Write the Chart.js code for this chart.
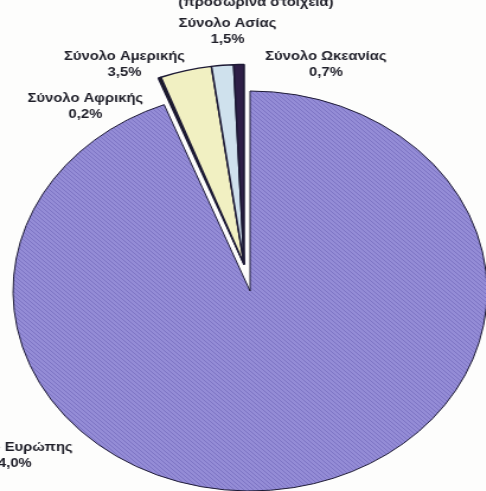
<!DOCTYPE html>
<html>
<head>
<meta charset="utf-8">
<script src="https://cdn.jsdelivr.net/npm/chart.js@4"></script>
<style>
  html, body { margin: 0; padding: 0; background: #fdfdfc; overflow: hidden; }
  /* the scanned original is stretched sideways, so the whole canvas is too */
  #wrap { width: 410px; height: 491px; transform: scaleX(1.185); transform-origin: 0 0; }
</style>
</head>
<body>
<div id="wrap"><canvas id="pie" width="410" height="491"></canvas></div>
<script>
const regions = ['Σύνολο Ευρώπης', 'Σύνολο Αφρικής', 'Σύνολο Αμερικής', 'Σύνολο Ασίας', 'Σύνολο Ωκεανίας'];
const shares = [94.0, 0.2, 3.5, 1.5, 0.7];
const subtitle = '(προσωρινά στοιχεία)';

document.addEventListener('DOMContentLoaded', function() {
  const canvas = document.getElementById('pie');
  const ctx = canvas.getContext('2d');

  // fine diagonal hatching like the printed europe slice
  const tile = document.createElement('canvas');
  tile.width = 4; tile.height = 4;
  const t = tile.getContext('2d');
  t.fillStyle = '#948cd6';
  t.fillRect(0, 0, 4, 4);
  t.fillStyle = '#7d74c4';
  for (let i = 0; i < 4; i++) t.fillRect(i, i, 1, 1);
  const hatch = ctx.createPattern(tile, 'repeat');

  // text spots (chart pixels, before the sideways stretch)
  const labelSpots = [[9, 448], [72, 99], [105, 57], [192, 24], [275, 57]];

  const labelPlugin = {
    id: 'regionLabels',
    afterDraw(chart) {
      const c = chart.ctx;
      c.save();
      c.fillStyle = '#1e1e28';
      c.font = 'bold 12.5px "Liberation Sans", Arial, sans-serif';
      c.textAlign = 'center';
      c.textBaseline = 'middle';
      regions.forEach((name, i) => {
        const [x, y] = labelSpots[i];
        c.fillText(name, x, y);
        c.fillText(shares[i].toFixed(1).replace('.', ',') + '%', x, y + 16);
      });
      c.textBaseline = 'alphabetic';
      c.fillText(subtitle, 216, 6);
      c.restore();
    }
  };

  // the small slices are pulled out together, as one block
  const pulledOut = [false, true, true, true, true];
  const pullDistance = 27;
  const groupPlugin = {
    id: 'explodeGroup',
    beforeDatasetsDraw(chart) {
      const arcs = chart.getDatasetMeta(0).data.filter((a, i) => pulledOut[i]);
      if (!arcs.length) return;
      const mid = (arcs[0].startAngle + arcs[arcs.length - 1].endAngle) / 2;
      this.shift = [Math.cos(mid) * pullDistance, Math.sin(mid) * pullDistance];
      arcs.forEach(a => { a.x += this.shift[0]; a.y += this.shift[1]; });
      this.arcs = arcs;
    },
    afterDatasetsDraw() {
      (this.arcs || []).forEach(a => { a.x -= this.shift[0]; a.y -= this.shift[1]; });
      this.arcs = null;
    }
  };

  new Chart(ctx, {
    type: 'pie',
    data: {
      labels: regions,
      datasets: [{
        data: shares,
        backgroundColor: [hatch, '#1c1c1c', '#f1f0c2', '#cfe1ed', '#2e1f47'],
        borderColor: '#1d1a35',
        borderWidth: [1, 1.5, 1.5, 1.5, 1.5]
      }]
    },
    options: {
      responsive: false,
      animation: false,
      devicePixelRatio: 1,
      radius: 200,
      layout: { padding: { left: 12, top: 91, right: 0, bottom: 0 } },
      plugins: {
        legend: { display: false },
        tooltip: { enabled: false }
      }
    },
    plugins: [groupPlugin, labelPlugin]
  });
});
</script>
</body>
</html>
